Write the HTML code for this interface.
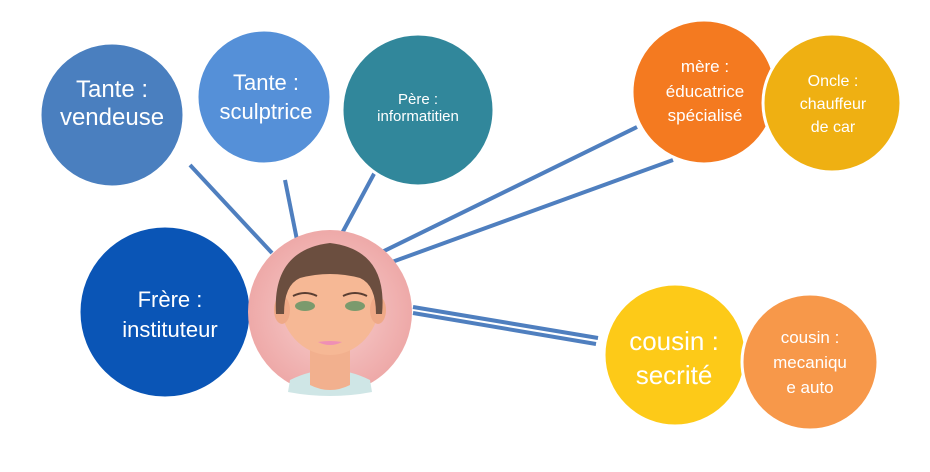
<!DOCTYPE html>
<html><head><meta charset="utf-8"><style>
html,body{margin:0;padding:0;background:#fff;width:930px;height:472px;overflow:hidden}
text{font-family:"Liberation Sans",sans-serif;fill:#fff;text-anchor:middle}
</style></head><body>
<svg width="930" height="472" viewBox="0 0 930 472">
<defs>
<radialGradient id="bg" cx="50%" cy="50%" r="50%">
<stop offset="0" stop-color="#f7d0cf"/><stop offset="1" stop-color="#eea9a8"/>
</radialGradient>
</defs>
<g stroke="#4f7fbf" stroke-width="4" fill="none">
<line x1="190" y1="165" x2="272" y2="253"/>
<line x1="285" y1="180" x2="297" y2="240"/>
<line x1="375" y1="172" x2="340" y2="237"/>
<line x1="637" y1="127" x2="380" y2="253"/>
<line x1="673" y1="160" x2="392" y2="262"/>
<line x1="413" y1="307" x2="598" y2="338"/>
<line x1="413" y1="313" x2="596" y2="344"/>
</g>
<g stroke="#fff" stroke-width="3">
<circle cx="112" cy="115" r="72" fill="#4a7fbf"/>
<circle cx="418" cy="110" r="76" fill="#31879b"/>
<circle cx="264" cy="97" r="67" fill="#5590d8"/>
<circle cx="704" cy="92" r="72" fill="#f47a20"/>
<circle cx="832" cy="103" r="69" fill="#efb012"/>
<circle cx="165" cy="312" r="86" fill="#0a55b6"/>
<circle cx="675" cy="355" r="71" fill="#fdca18"/>
<circle cx="810" cy="362" r="68" fill="#f7984a"/>
</g>
<!-- face -->
<circle cx="330" cy="312" r="82" fill="url(#bg)"/>
<path d="M290 380 Q330 360 370 380 L372 392 Q330 400 288 392Z" fill="#cfe6e6"/>
<path d="M310 345 L310 385 Q330 395 350 385 L350 345Z" fill="#f2b08e"/>
<ellipse cx="330" cy="300" rx="50" ry="55" fill="#f6b895"/>
<ellipse cx="282" cy="310" rx="8" ry="14" fill="#efa987"/>
<ellipse cx="378" cy="310" rx="8" ry="14" fill="#efa987"/>
<path d="M276 314 Q272 250 330 243 Q388 250 382 314 L376 314 Q376 285 360 278 Q330 270 300 278 Q284 285 284 314Z" fill="#6b4e3f"/>
<ellipse cx="305" cy="306" rx="10" ry="5" fill="#7b9a6d"/>
<ellipse cx="355" cy="306" rx="10" ry="5" fill="#7b9a6d"/>
<path d="M293 296 Q305 290 317 296" stroke="#5a3e32" stroke-width="2" fill="none"/>
<path d="M343 296 Q355 290 367 296" stroke="#5a3e32" stroke-width="2" fill="none"/>
<path d="M318 342 Q330 348 342 342 Q330 340 318 342Z" fill="#ef8fb5"/>
<text x="112" y="97" font-size="24">Tante :</text>
<text x="112" y="125" font-size="24">vendeuse</text>
<text x="266" y="90" font-size="22">Tante :</text>
<text x="266" y="119" font-size="22">sculptrice</text>
<text x="418" y="104" font-size="15">Père :</text>
<text x="418" y="121" font-size="15">informatitien</text>
<text x="705" y="72" font-size="17">mère :</text>
<text x="705" y="97" font-size="17">éducatrice</text>
<text x="705" y="121" font-size="17">spécialisé</text>
<text x="833" y="86" font-size="16">Oncle :</text>
<text x="833" y="109" font-size="16">chauffeur</text>
<text x="833" y="132" font-size="16">de car</text>
<text x="170" y="307" font-size="22">Frère :</text>
<text x="170" y="337" font-size="22">instituteur</text>
<text x="674" y="350" font-size="26">cousin :</text>
<text x="674" y="384" font-size="26">secrité</text>
<text x="810" y="343" font-size="17">cousin :</text>
<text x="810" y="368" font-size="17">mecaniqu</text>
<text x="810" y="393" font-size="17">e auto</text>
</svg>
</body></html>
